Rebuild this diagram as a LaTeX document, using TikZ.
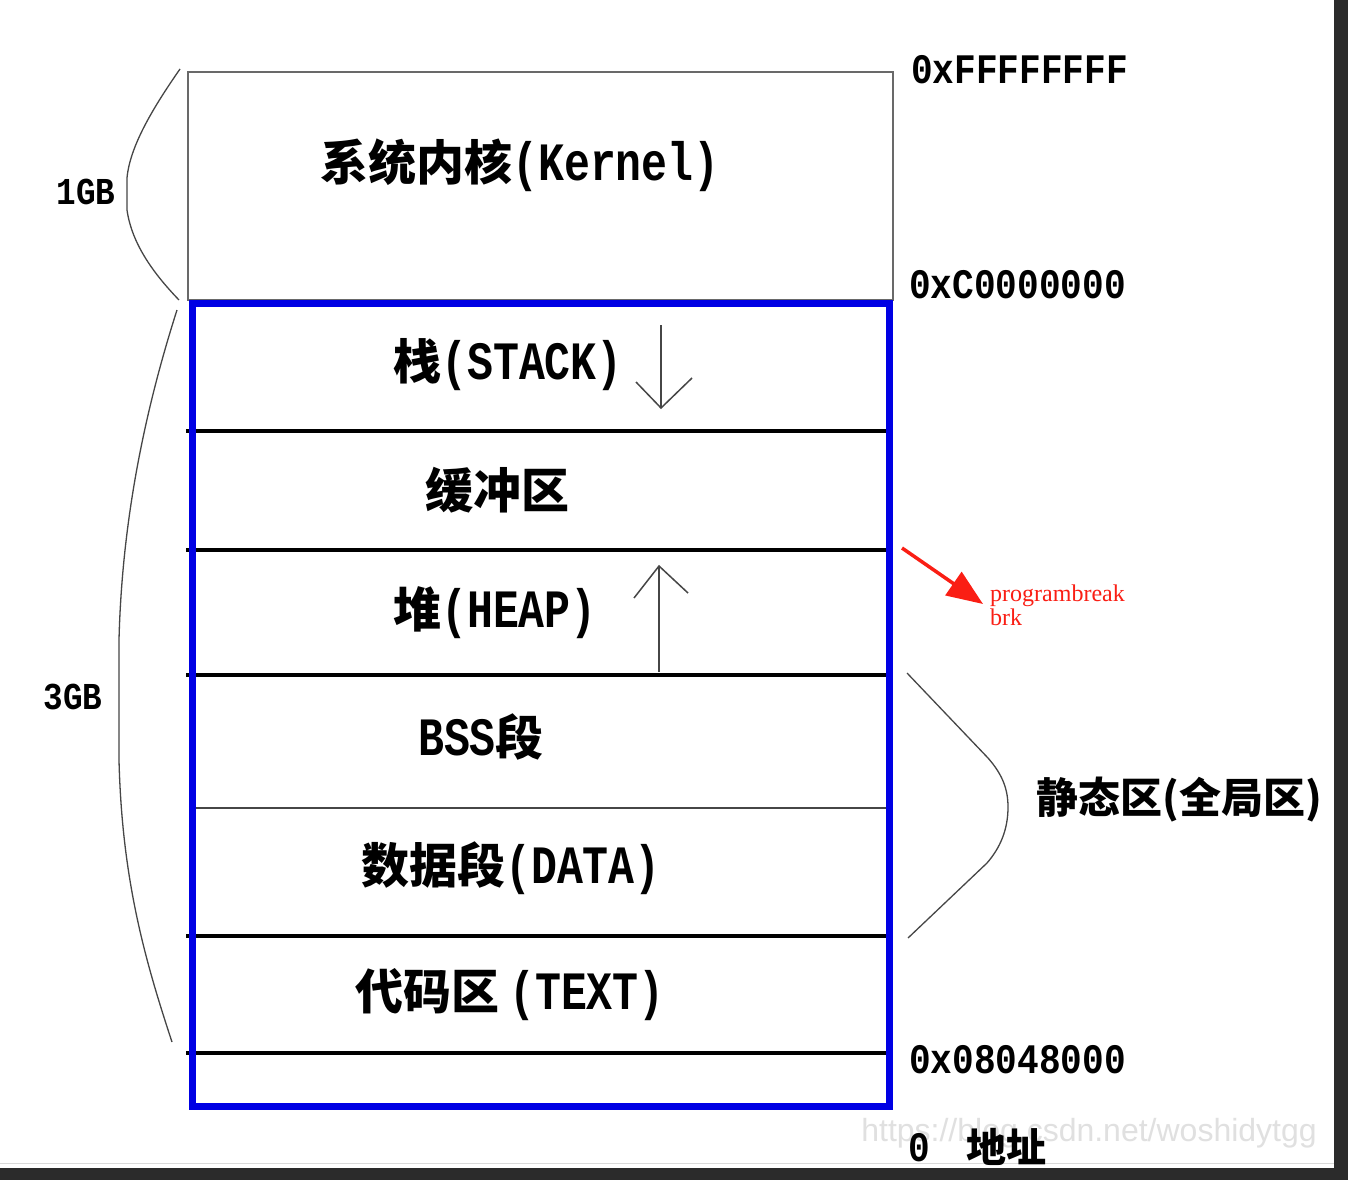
\documentclass[tikz,border=0pt]{standalone}
\usepackage{fontspec}
\usetikzlibrary{arrows.meta}
\setmainfont{Liberation Serif}
\newfontfamily\cjkf{Noto Sans CJK SC}
\newfontfamily\monof{Liberation Mono}[FakeStretch=0.8]
\newfontfamily\addrf{Liberation Mono}[FakeStretch=0.86]
\newfontfamily\wmf{Liberation Sans}
\newcommand\zh[1]{{\cjkf\bfseries #1}}
\newcommand\la[1]{{\monof\bfseries\fontsize{54}{58}\selectfont #1}}
\definecolor{framec}{RGB}{43,43,43}
\definecolor{boxblue}{RGB}{0,0,228}
\definecolor{kerngray}{RGB}{105,105,105}
\definecolor{linegray}{RGB}{70,70,70}
\definecolor{brkred}{RGB}{250,30,20}
\begin{document}
\begin{tikzpicture}[x=1pt,y=-1pt,
  lbl/.style={inner sep=0pt, font=\fontsize{48}{52}\selectfont},
  addr/.style={inner sep=0pt, anchor=west, font=\addrf\bfseries\fontsize{42}{46}\selectfont},
  gb/.style={inner sep=0pt, font=\addrf\bfseries\fontsize{38}{42}\selectfont},
  divider/.style={line width=4.5pt, black},
  thindiv/.style={line width=1.5pt, linegray},
  kernbox/.style={line width=2pt, kerngray},
  bluebox/.style={line width=7pt, boxblue},
  growarrow/.style={line width=1.5pt, linegray, line join=miter},
  brace/.style={line width=1.3pt, linegray},
  redarrow/.style={line width=3.5pt, brkred, -{Triangle[length=36pt,width=28pt]}},
  redtext/.style={inner sep=0pt, anchor=base west, text=brkred, font=\fontsize{24}{26}\selectfont},
  watermark/.style={inner sep=0pt, text=black!12, font=\wmf\fontsize{32}{36}\selectfont}
]
\fill[white] (0,0) rectangle (1348,1180);
\useasboundingbox (0,0) rectangle (1348,1180);
% window frame
\fill[framec] (1334,0) rectangle (1348,1180);
\fill[framec] (0,1168) rectangle (1348,1180);
\draw[black!15, line width=1pt] (0,1163.5) -- (1334,1163.5);

% kernel box
\draw[kernbox] (188,72) rectangle (893,300);
% dividers
\foreach \yy in {431,550,675,936,1053} \draw[divider] (186,\yy) -- (890,\yy);
\draw[thindiv] (192,808) -- (890,808);
% user space box
\draw[bluebox] (192.5,303) rectangle (889,1106);

% labels
\node[lbl] (kernel) at (520,165) {\zh{系统内核}\la{(Kernel)}};
\node[lbl] (stack) at (508,365) {\zh{栈}\la{(STACK)}};
\node[lbl] (buffer) at (497,490) {\zh{缓冲区}};
\node[lbl] (heap) at (495,613) {\zh{堆}\la{(HEAP)}};
\node[lbl] (bss) at (481,737) {\la{BSS}\zh{段}};
\node[lbl] (data) at (511,868) {\zh{数据段}\la{(DATA)}};
\node[lbl] (text) at (510,995) {\zh{代码区}\hspace{10pt}\la{(TEXT)}};

% growth arrows
\coordinate (sa) at (661,325);
\coordinate (sb) at (661,408);
\draw[growarrow] (sa) -- (sb);
\draw[growarrow] (636,382) -- (sb) -- (692,378);
\coordinate (ha) at (659,672);
\coordinate (hb) at (659,566);
\draw[growarrow] (ha) -- (hb);
\draw[growarrow] (634,598) -- (hb) -- (688,593);

% addresses
\node[addr] (aF) at (911,70) {0xFFFFFFFF};
\node[addr] (aC) at (909,285) {0xC0000000};
\node[addr] (a8) at (909,1060) {0x08048000};
\node[watermark] (wm) at (1089,1133) {https://blog.csdn.net/woshidytgg};
\node[addr] (a0) at (908,1148) {0};
\node[inner sep=0pt, anchor=west, font=\fontsize{40}{44}\selectfont] (addrlbl) at (966,1147) {\zh{地址}};

% left braces
\draw[brace] (180,69) .. controls (155,105) and (130,145) .. (127,178) -- (127,210) .. controls (132,245) and (155,275) .. (179,300);
\node[gb] (g1) at (86,192) {1GB};
\draw[brace] (177,310) .. controls (145,410) and (122,520) .. (119,640) -- (119,760) .. controls (122,880) and (145,960) .. (172,1042);
\node[gb] (g3) at (73,697) {3GB};

% right brace (static area)
\draw[brace] (907,673) -- (988,758) .. controls (1003,775) and (1008,790) .. (1008,807) .. controls (1008,830) and (1000,848) .. (987,863) -- (908,938);
\node[inner sep=0pt, anchor=west, font=\fontsize{42}{46}\selectfont] (static) at (1036,800) {\zh{静态区(全局区)}};

% program break
\coordinate (bk) at (902,548);
\coordinate (bt) at (983,604);
\draw[redarrow] (bk) -- (bt);
\node[redtext] (pb1) at (990,601) {programbreak};
\node[redtext] (pb2) at (990,625) {brk};
\end{tikzpicture}
\end{document}
